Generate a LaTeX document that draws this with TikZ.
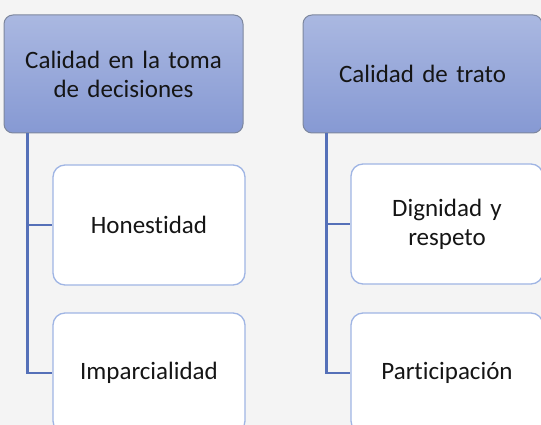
\documentclass[tikz,border=0pt]{standalone}
\usepackage{fontspec}
\setmainfont{Carlito}[Ligatures=NoCommon]
\definecolor{bgc}{HTML}{F4F4F4}
\definecolor{topc}{HTML}{AAB8E1}
\definecolor{botc}{HTML}{8699D3}
\definecolor{headborder}{HTML}{7D879E}
\definecolor{childborder}{HTML}{9FB5E4}
\definecolor{linkc}{HTML}{5570B8}
\definecolor{txt}{HTML}{151515}
\newcommand{\diagfont}{\fontsize{25}{29}\selectfont\spaceskip=5pt plus 1pt minus 1pt\relax}
\begin{document}
\begin{tikzpicture}[x=1pt,y=-1pt,
  head/.style={draw=headborder, line width=1pt, rounded corners=9pt, top color=topc, bottom color=botc,
    minimum width=239pt, minimum height=118pt, text width=230pt, align=center, font=\diagfont, text=txt, inner sep=0pt},
  child/.style={draw=childborder, line width=1.3pt, fill=white, rounded corners=12pt,
    minimum width=192pt, minimum height=120pt, text width=185pt, align=center, font=\diagfont, text=txt, inner sep=0pt},
  link/.style={draw=linkc, line width=2.3pt}]
\fill[bgc] (0,0) rectangle (541,425);
\useasboundingbox (0,0) rectangle (541,425);
\begin{scope}
\clip (0,0) rectangle (541,425);
\node[head] (hl) at (123.5,74) {Calidad en la toma\\de decisiones};
\node[head] (hr) at (422.5,74) {Calidad de trato};
\node[child] (c1) at (149,225) {Honestidad};
\node[child] (c2) at (149,373) {Imparcialidad};
\node[child] (c3) at (447,224) {Dignidad y\\respeto};
\node[child] (c4) at (447,373) {Participación};
\coordinate (al) at ([xshift=24pt]hl.south west);
\coordinate (ar) at ([xshift=24pt]hr.south west);
\draw[link] (al) |- (c1.west);
\draw[link] (al) |- (c2.west);
\draw[link] (ar) |- (c3.west);
\draw[link] (ar) |- (c4.west);
\end{scope}
\end{tikzpicture}
\end{document}
